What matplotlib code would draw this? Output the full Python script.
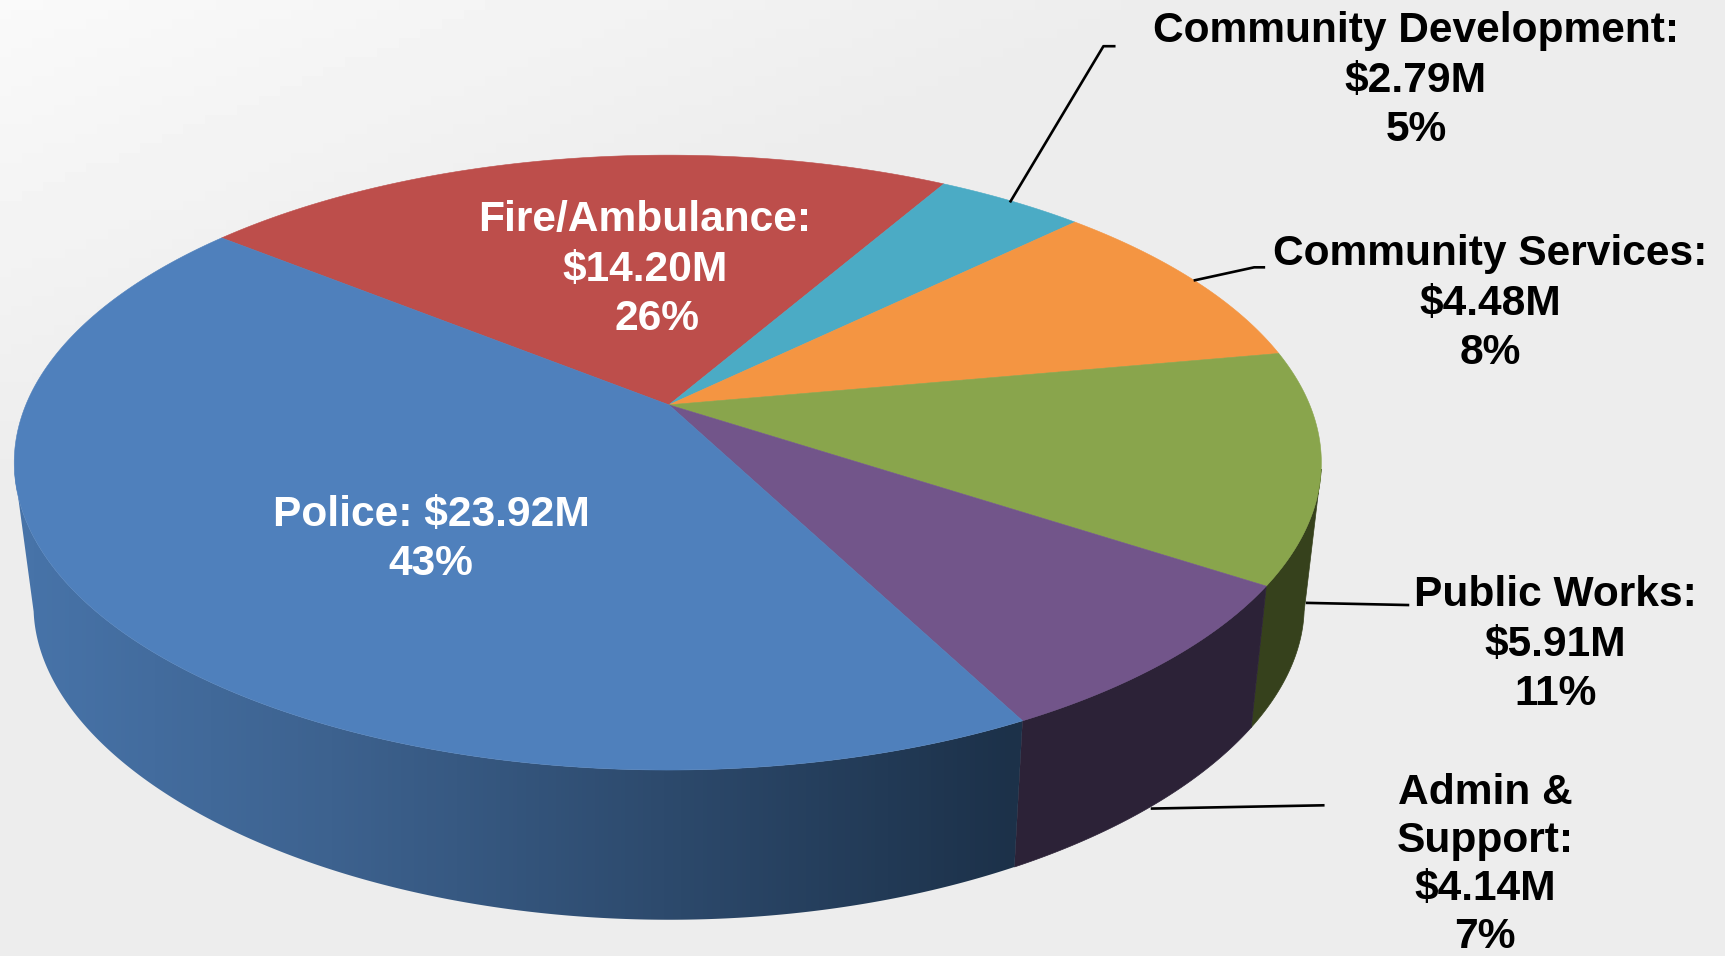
import numpy as np
import matplotlib
matplotlib.use('Agg')
import matplotlib.pyplot as plt
from matplotlib.colors import to_rgb
from matplotlib.patches import Polygon

plt.rcParams['font.family'] = ['Liberation Sans', 'DejaVu Sans']

# Order is clockwise, starting at the Fire/Police edge at the back of the pie
names = ['Fire/Ambulance:', 'Community Development:', 'Community Services:',
         'Public Works:', 'Admin &\nSupport:', 'Police:']
amounts = ['$14.20M', '$2.79M', '$4.48M', '$5.91M', '$4.14M', '$23.92M']
percents = ['26%', '5%', '8%', '11%', '7%', '43%']
# Share of the rim as it is drawn in the picture, this is not the printed percent
drawn_share = [22.5, 4.4, 9.4, 12.1, 8.15, 43.45]
top_colors = ['#bd4e4b', '#4babc5', '#f49542', '#89a54c', '#72558a', '#4f80bc']
wall_colors = [None, None, None, '#36411c', '#2c2237', None]

START_ANGLE = 141.0
# the wall is only seen between these two rim angles
WALL_RIGHT = -12.0
WALL_LEFT = -168.0
W, H = 1568.0, 869.0


def top_rim(t):
    # circle seen in perspective, the centre lands above the middle of the ellipse
    u, v = np.cos(t), np.sin(t)
    d = 1 + 0.1878 * v
    return 607 + 583.5 * u / d, (368 - 200.5 * v) / d


def bottom_rim(t):
    u, v = np.cos(t), np.sin(t)
    return 608 + 567 * u / (1 + 0.19 * v), (500 - 135.4 * v) / (1 + 0.24 * v)


fig = plt.figure(figsize=(17.25, 9.56), dpi=100)
ax = fig.add_axes([0, 0, 1, 1])
ax.set_xlim(0, W)
ax.set_ylim(H, 0)
ax.axis('off')

# background, almost white along the upper left and flat grey elsewhere
yy, xx = np.mgrid[0:H:100j, 0:W:160j]
fade = np.clip((xx / 1100 + yy / 450), 0, 1)
bg = 0.978 - (0.978 - 0.926) * fade
ax.imshow(bg, extent=(0, W, H, 0), cmap='gray', vmin=0, vmax=1, aspect='auto', zorder=0)

edges = START_ANGLE - 3.6 * np.cumsum([0] + drawn_share)

# side walls first
for i in range(len(names)):
    a = min(edges[i], WALL_RIGHT)
    b = max(edges[i + 1], WALL_LEFT)
    if a <= b:
        continue
    ts = np.radians(np.linspace(a, b, 300))
    xt, yt = top_rim(ts)
    xb, yb = bottom_rim(ts)
    outline = list(zip(xt, yt)) + list(zip(xb[::-1], yb[::-1]))
    if names[i] == 'Police:':
        # police wall darkens from left to right
        gx = np.linspace(0, W, 400)
        stops_x = [30, 300, 922]
        stops_c = np.array([to_rgb('#4773a8'), to_rgb('#3d628f'), to_rgb('#1c3149')])
        grad = np.stack([np.interp(gx, stops_x, stops_c[:, c]) for c in range(3)], axis=1)
        im = ax.imshow(grad[np.newaxis, :, :], extent=(0, W, H, 0), aspect='auto', zorder=2)
        patch = Polygon(outline, closed=True, transform=ax.transData, fc='none', ec='none')
        ax.add_patch(patch)
        im.set_clip_path(patch)
    elif wall_colors[i] is not None:
        ax.add_patch(Polygon(outline, closed=True, fc=wall_colors[i], ec=wall_colors[i], lw=0.5, zorder=2))

# top face
for i in range(len(names)):
    ts = np.radians(np.linspace(edges[i], edges[i + 1], 200))
    xt, yt = top_rim(ts)
    pts = [(608, 368)] + list(zip(xt, yt))
    ax.add_patch(Polygon(pts, closed=True, fc=top_colors[i], ec=top_colors[i], lw=0.4, zorder=3))

# leader lines
leaders = [([918, 1003, 1014], [184, 42, 42]),
           ([1085, 1140, 1150], [255, 243, 243]),
           ([1187, 1281], [548, 550]),
           ([1046, 1204], [735, 732])]
for lx, ly in leaders:
    ax.plot(lx, ly, color='black', lw=1.9, zorder=4, solid_capstyle='butt')

label_x = [586, 1287, 1355, 1414, 1350, 392]
label_y = [200, 28, 231, 541, 720.5, 468]
label_step = [45.0, 45.3, 45.0, 45.0, 43.6, 45.0]
label_color = ['white', 'black', 'black', 'black', 'black', 'white']
for i in range(len(names)):
    lines = names[i].split('\n') + [amounts[i], percents[i]]
    if names[i] == 'Police:':
        lines = [names[i] + ' ' + amounts[i], percents[i]]
    for j, line in enumerate(lines):
        x = label_x[i]
        if names[i].startswith('Fire') and j == 2:
            x += 11
        ax.text(x, label_y[i] + j * label_step[i], line, ha='center', va='center', color=label_color[i],
                fontsize=30.6, fontweight='bold', zorder=5)

fig.savefig('out.png', dpi=100)
